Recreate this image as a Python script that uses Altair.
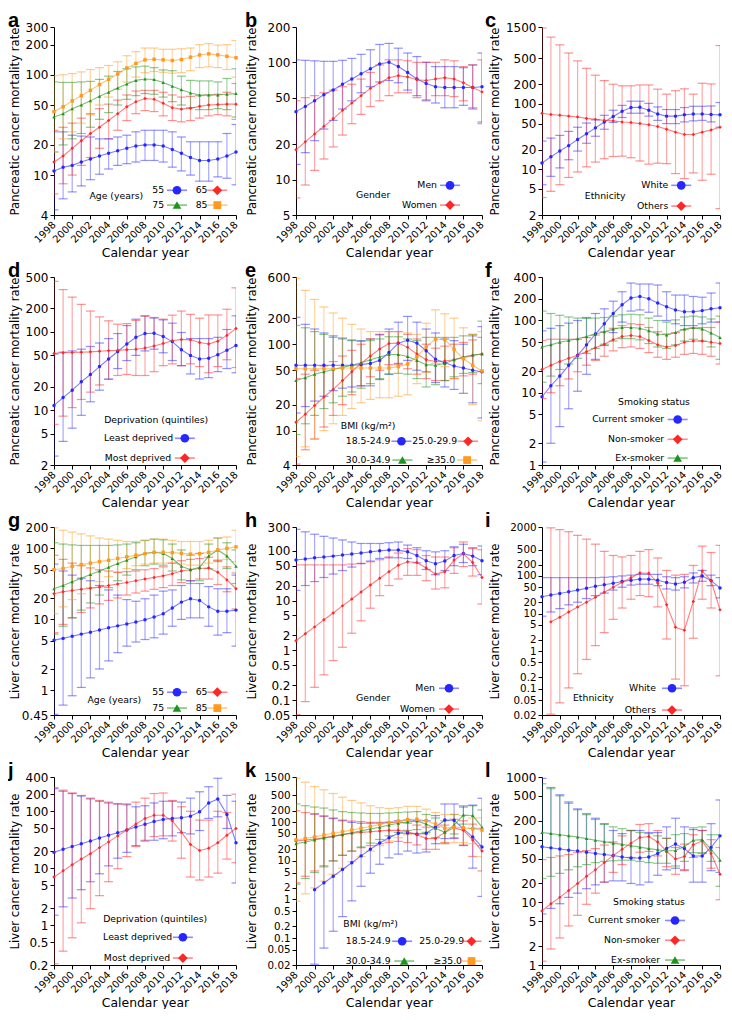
import altair as alt
import pandas as pd

YEARS = list(range(1998, 2019))
X_TICKS = list(range(1998, 2019, 2))

# ---------------- Panel a: pancreatic, age ----------------
A55 = [11, 12, 12.5, 13.5, 14.5, 15.5, 16.5, 17.5, 18.5, 19.5, 20, 20, 19.5, 18, 16.5, 15, 14, 14, 14.5, 15.5, 17]
A55_HI = [27, 27, 25, 24.5, 24, 23, 23, 24, 25, 27, 28, 28, 28, 27, 24, 21.5, 21.5, 21.5, 21.5, 26, 32]
A55_LO = [4.5, 5.8, 6.8, 7.8, 9, 10.2, 11.5, 12.5, 13, 13.5, 14, 14, 13.5, 12, 11, 10, 8.7, 8.7, 9.6, 9.3, 8]
A65 = [13.5, 15.5, 18.5, 22, 26, 30, 35, 41, 48, 54, 58, 57, 52, 47, 45.5, 46.5, 48.5, 50, 50.5, 51, 51]
A65_HI = [28, 30, 33, 37, 41, 46, 51, 56, 63, 69, 70, 70, 67, 63, 60, 61, 62, 63, 64, 67, 82]
A65_LO = [6.5, 8.2, 10, 12.5, 15, 18.5, 23, 28, 35, 41, 44, 43, 39, 35, 34, 35, 37, 39, 40, 39, 36]
A75 = [38, 41, 46, 50, 55, 61, 67, 74, 81, 88, 91, 90, 84, 77, 71, 66, 63, 63, 63, 64, 65]
A75_HI = [85, 84, 84, 85, 86, 90, 97, 108, 115, 120, 122, 118, 112, 110, 97, 88, 87, 87, 85, 92, 115]
A75_LO = [17, 20, 23, 26, 30, 36, 42, 50, 57, 62, 65, 64, 60, 54, 50, 47, 45, 45, 46, 45, 38]
A85 = [43, 48, 55, 62, 70, 80, 90, 102, 117, 130, 141, 143, 141, 139, 142, 150, 158, 162, 158, 153, 148]
A85_HI = [98, 100, 103, 107, 113, 118, 124, 135, 155, 170, 185, 185, 180, 180, 182, 185, 200, 205, 198, 200, 220]
A85_LO = [17, 23, 27, 33, 40, 50, 60, 72, 85, 95, 105, 108, 106, 104, 105, 110, 118, 120, 118, 113, 95]

# ---------------- Panel b: pancreatic, gender ----------------
B_MEN = [38, 42, 47, 53, 58, 65, 72, 80, 88, 97, 100, 92, 82, 72, 66, 62, 61, 61, 61, 61, 62]
B_MEN_HI = [105, 104, 103, 102, 102, 104, 108, 117, 128, 142, 145, 132, 120, 112, 100, 92, 92, 92, 90, 95, 120]
B_MEN_LO = [13.5, 17, 21.5, 27, 32, 40, 47, 55, 62, 68, 70, 67, 58, 52, 47, 45, 41, 41, 43, 40, 31]
B_WOM = [18, 21, 24.5, 28.5, 33, 39, 45, 52, 60, 67, 74, 77, 75, 71, 70, 72, 74, 72, 67, 61, 56]
B_WOM_HI = [47, 50, 52, 55, 58, 62, 65, 72, 82, 95, 105, 105, 103, 100, 100, 100, 105, 103, 92, 95, 105]
B_WOM_LO = [7, 9, 12, 15, 19, 24, 30, 36, 42, 47, 52, 55, 55, 50, 48, 52, 52, 51, 47, 41, 30]

# ---------------- Panel c: pancreatic, ethnicity ----------------
C_WHITE = [12.5, 15.5, 19, 23, 28.5, 35, 43, 53, 64, 77, 88, 89, 80, 70, 65, 65, 68, 70, 70, 69, 68]
C_WHITE_HI = [27, 30, 33, 38, 44, 51, 57, 67, 80, 95, 110, 110, 102, 90, 82, 82, 88, 92, 92, 93, 105]
C_WHITE_LO = [5.8, 7.8, 10.5, 14, 19, 25, 32, 41, 52, 62, 72, 72, 65, 56, 50, 50, 53, 55, 56, 53, 44]
C_OTH = [72, 69, 67, 65, 63, 60, 58, 56, 55, 53, 52, 50, 48, 45, 41, 37, 34, 34, 37, 40, 44]
C_OTH_HI = [1450, 1050, 800, 600, 455, 350, 275, 227, 200, 189, 189, 195, 195, 168, 141, 159, 170, 141, 207, 202, 780]
C_OTH_LO = [3.7, 4.6, 5.8, 7.5, 9.1, 10.9, 12.9, 14.5, 15.7, 15.9, 15, 13.4, 12, 12.4, 12.2, 8.6, 7.2, 8.8, 6.8, 8.4, 2.5]

# ---------------- Panel d: pancreatic, deprivation ----------------
D_LEAST = [11.5, 14.5, 18, 23, 28.5, 36, 45, 56, 70, 85, 95, 96, 87, 75, 59, 50, 45, 46, 51, 58, 67]
D_LEAST_HI = [52, 55, 57, 60, 65, 72, 82, 95, 120, 145, 160, 150, 142, 129, 98, 82, 82, 82, 85, 107, 160]
D_LEAST_LO = [2.6, 4, 5.9, 8.6, 12.8, 18, 25, 34, 43, 50, 57, 60, 54, 43, 37, 29, 25, 26, 31, 34, 30]
D_MOST = [53, 54, 54.5, 55, 55.5, 56.5, 57.5, 58, 59, 60, 62, 66, 71, 77, 80, 79, 73, 70, 76, 90, 110]
D_MOST_HI = [440, 345, 277, 224, 184, 155, 138, 125, 127, 140, 158, 152, 145, 163, 184, 167, 149, 164, 164, 194, 364]
D_MOST_LO = [6.6, 8.4, 10.8, 13.7, 17, 21, 24.7, 27.7, 28.5, 27.7, 27.7, 31, 37, 39, 37, 39, 36, 30, 36, 44, 35]

# ---------------- Panel e: pancreatic, BMI ----------------
E_18 = [57, 57, 57, 57, 57, 57, 57, 58, 60, 65, 80, 103, 111, 103, 84, 67, 61, 56, 53, 50, 48]
E_18_HI = [205, 170, 150, 135, 125, 118, 112, 110, 115, 130, 150, 180, 210, 180, 150, 135, 115, 110, 100, 125, 160]
E_18_LO = [16, 19, 22, 25, 29, 31, 32, 33, 33, 39, 45, 60, 65, 50, 48, 36, 32, 30, 27, 21, 14]
E_25 = [12.5, 15.5, 19.5, 24.5, 30, 38, 48, 60, 73, 88, 102, 103, 92, 77, 66, 63, 64, 66, 70, 74, 77]
E_25_HI = [40, 45, 50, 56, 63, 73, 85, 100, 115, 128, 140, 140, 130, 115, 100, 90, 95, 100, 105, 112, 120]
E_25_LO = [4.1, 6, 8, 11, 15, 20, 26, 33, 42, 50, 58, 58, 52, 45, 40, 38, 38, 40, 43, 45, 48]
E_30 = [38, 41, 45, 48, 51, 54, 57, 61, 66, 71, 76, 76, 72, 65, 58, 57, 60, 66, 71, 75, 77]
E_30_HI = [165, 155, 140, 130, 120, 115, 110, 108, 110, 115, 122, 122, 115, 110, 120, 120, 120, 120, 125, 130, 185]
E_30_LO = [9, 12, 15, 18, 21, 25, 28, 31, 35, 40, 45, 46, 45, 40, 32, 34, 38, 42, 46, 47, 35]
E_35 = [52, 52, 52, 52, 52, 53, 53, 53, 53, 53, 53, 55, 59, 72, 93, 115, 113, 87, 68, 57, 49]
E_35_HI = [580, 420, 330, 270, 230, 200, 170, 150, 140, 140, 140, 140, 135, 130, 175, 250, 225, 200, 155, 130, 140]
E_35_LO = [5, 6.5, 8, 10, 12, 15, 18, 21, 23, 24, 24, 25, 26, 35, 47, 60, 55, 40, 27, 20, 13]

# ---------------- Panel f: pancreatic, smoking ----------------
F_CUR = [8.8, 12.5, 17, 24, 33, 46, 65, 90, 125, 165, 205, 215, 200, 175, 155, 140, 132, 132, 137, 145, 150]
F_CUR_HI = [72, 78, 85, 92, 100, 110, 125, 145, 185, 250, 330, 320, 320, 310, 250, 225, 225, 215, 210, 240, 330]
F_CUR_LO = [1.1, 2, 3.4, 6, 10.5, 18, 29, 45, 68, 95, 135, 140, 130, 115, 100, 90, 85, 85, 90, 95, 95]
F_NON = [21, 24, 27, 30, 33, 37, 42, 47, 54, 60, 62, 60, 53, 46, 43, 45, 50, 52, 52, 50, 48]
F_NON_HI = [53, 55, 55, 55, 55, 58, 63, 70, 78, 85, 90, 88, 80, 70, 65, 68, 75, 78, 80, 80, 95]
F_NON_LO = [8.3, 10, 12.5, 15.5, 19.5, 24, 28, 32, 38, 42, 43, 41, 36, 31, 29, 31, 34, 35, 34, 32, 25]
F_EX = [43, 46, 50, 53, 56, 60, 65, 70, 76, 80, 80, 78, 72, 65, 63, 68, 76, 80, 76, 67, 58]
F_EX_HI = [135, 125, 118, 112, 108, 107, 108, 110, 115, 120, 122, 120, 108, 100, 95, 102, 112, 115, 112, 105, 115]
F_EX_LO = [14, 17, 21, 25, 30, 35, 41, 47, 52, 56, 56, 54, 48, 43, 41, 46, 52, 55, 52, 43, 29]

# ---------------- Panel g: liver, age ----------------
G55 = [5.1, 5.4, 5.8, 6.2, 6.6, 7.1, 7.6, 8.1, 8.6, 9.2, 9.9, 10.8, 12, 14.5, 17.5, 19.5, 18.5, 15, 13, 13, 13.5]
G55_HI = [60, 48, 42, 38, 35, 30, 26, 22, 19, 18, 19.5, 22, 25, 26, 30, 35, 32, 29, 27, 27, 42]
G55_LO = [0.46, 0.62, 0.84, 1.1, 1.5, 2, 2.6, 3.4, 4.2, 4.8, 5.2, 5.5, 6.2, 8, 10, 10.5, 10.5, 8, 6, 6.5, 4.2]
G65 = [23, 24.5, 25.5, 26.5, 27.5, 28.5, 30, 31.5, 33, 35, 37, 39, 41, 44, 48, 50, 52, 53, 46, 36, 27]
G65_HI = [80, 70, 62, 57, 53, 50, 48, 46, 47, 48, 50, 52, 55, 62, 67, 70, 72, 75, 68, 55, 45]
G65_LO = [6.5, 8.5, 10.5, 12.5, 14.5, 16.5, 18.5, 20, 22, 23.5, 25, 26.5, 28, 30, 33, 35, 37, 37, 31, 24.5, 14]
G75 = [27, 30, 34, 38, 43, 48, 54, 61, 68, 76, 85, 88, 85, 72, 56, 50, 54, 78, 95, 78, 56]
G75_HI = [120, 115, 112, 110, 110, 110, 110, 112, 115, 120, 130, 135, 132, 115, 95, 80, 85, 115, 140, 120, 95]
G75_LO = [6.2, 8, 10.5, 13.5, 17, 22, 28, 35, 42, 50, 57, 60, 58, 48, 36, 32, 35, 52, 65, 52, 32]
G85 = [50, 52, 56, 59, 62, 65, 68, 72, 76, 80, 84, 88, 88, 87, 85, 83, 84, 88, 95, 100, 105]
G85_HI = [195, 180, 170, 160, 150, 140, 135, 130, 125, 125, 128, 135, 135, 130, 125, 125, 125, 130, 140, 145, 180]
G85_LO = [12, 15, 19, 23, 28, 34, 40, 46, 52, 57, 60, 62, 62, 62, 60, 58, 58, 62, 68, 70, 65]

# ---------------- Panel h: liver, gender ----------------
H_MEN = [65, 68, 72, 75, 78, 82, 86, 90, 95, 100, 103, 103, 95, 80, 63, 55, 62, 80, 88, 78, 63]
H_MEN_HI = [270, 240, 215, 195, 180, 165, 150, 140, 140, 140, 145, 150, 130, 115, 100, 95, 100, 120, 135, 115, 125]
H_MEN_LO = [16, 20, 24, 29, 34, 40, 47, 55, 62, 70, 72, 72, 70, 57, 42, 33, 40, 50, 58, 50, 33]
H_WOM = [1.55, 2.15, 2.95, 4.1, 5.6, 7.8, 10.7, 14.8, 20.5, 28, 38, 51, 60, 58, 45, 34, 38, 65, 87, 58, 29]
H_WOM_HI = [52, 52, 52, 52, 52, 52, 54, 56, 60, 66, 75, 90, 110, 105, 80, 75, 75, 115, 150, 110, 105]
H_WOM_LO = [0.051, 0.093, 0.18, 0.32, 0.62, 1.15, 2.2, 3.9, 7, 12.5, 20, 27, 32, 32, 25, 17, 18, 35, 48, 31, 8.5]

# ---------------- Panel i: liver, ethnicity ----------------
I_WHITE = [28, 31, 34, 38, 42, 47, 53, 58, 64, 71, 77, 82, 82, 77, 67, 61, 68, 90, 100, 75, 48]
I_WHITE_HI = [90, 90, 90, 90, 90, 90, 90, 92, 95, 100, 105, 110, 110, 110, 95, 90, 95, 120, 140, 105, 90]
I_WHITE_LO = [8.5, 11, 13.5, 17, 20, 25, 30, 35, 42, 50, 57, 60, 60, 55, 45, 42, 48, 65, 72, 55, 26]
I_OTH = [None, 6, 8, 11, 15, 20, 27, 37, 50, 68, 90, 120, 118, 65, 17, 4.3, 3.6, 21, 135, 75, 12.5]
I_OTH_HI = [None, 1900, 1700, 1500, 1200, 950, 700, 450, 350, 320, 350, 450, 500, 300, 140, 105, 110, 190, 620, 420, 650]
I_OTH_LO = [None, 0.021, 0.042, 0.105, 0.25, 0.6, 1.4, 3.1, 7, 14, 24, 30, 28, 15, 2.1, 0.18, 0.12, 2.2, 24, 14, 0.22]

# ---------------- Panel j: liver, deprivation ----------------
J_LEAST = [19, 21.5, 24, 27, 30, 34, 38, 42, 47, 53, 59, 66, 72, 75, 77, 82, 98, 140, 165, 88, 28]
J_LEAST_HI = [250, 225, 205, 185, 165, 150, 140, 135, 130, 120, 125, 140, 150, 150, 145, 170, 220, 270, 380, 190, 150]
J_LEAST_LO = [1.5, 2.1, 3, 4.2, 5.8, 8, 11, 15, 19, 25, 30, 31, 33, 37, 42, 40, 46, 75, 80, 50, 5.5]
J_MOST = [7, 9, 11.5, 14.5, 18, 23, 29, 37, 47, 60, 75, 85, 85, 68, 43, 26, 20.5, 22.5, 28, 38, 50]
J_MOST_HI = [260, 235, 210, 190, 170, 155, 145, 135, 135, 145, 170, 205, 210, 155, 120, 100, 70, 70, 100, 95, 200]
J_MOST_LO = [0.21, 0.35, 0.6, 1.1, 1.95, 3.3, 5.8, 9.8, 16, 24, 31, 36, 37, 30, 15, 7, 6.2, 7, 8.2, 14.5, 12.5]

# ---------------- Panel k: liver, BMI ----------------
K_18 = [None, None, 1.8, 2.7, 4, 6, 9, 13.5, 20, 29, 40, 52, 53, 49, 52, 75, 115, 113, 68, 42, 23]
K_18_HI = [None, None, 165, 145, 125, 110, 100, 95, 95, 95, 100, 110, 115, 110, 110, 150, 300, 300, 250, 280, 420]
K_18_LO = [None, None, 0.021, 0.055, 0.15, 0.36, 0.92, 2.2, 4.8, 8.2, 12, 15, 18, 16, 17, 28, 38, 38, 25, 6.5, 1.2]
K_25 = [33, 35, 37, 40, 44, 48, 52, 55, 57, 60, 62, 62, 58, 48, 38, 38, 55, 72, 62, 35, 18]
K_25_HI = [200, 180, 165, 145, 130, 115, 108, 105, 100, 100, 100, 100, 95, 85, 75, 75, 85, 120, 110, 90, 70]
K_25_LO = [2.7, 4, 5.5, 7.5, 10, 14, 18, 22, 25, 28, 30, 32, 30, 26, 20, 20, 30, 40, 26, 13, 5.5]
K_30 = [28, 31, 35, 39, 43, 48, 54, 60, 67, 75, 85, 95, 103, 108, 90, 70, 55, 85, 155, 150, 75]
K_30_HI = [300, 270, 250, 235, 210, 190, 180, 175, 170, 170, 175, 180, 185, 190, 160, 130, 110, 160, 270, 270, 210]
K_30_LO = [2.5, 3.5, 5, 7, 10, 14, 18, 23, 29, 36, 45, 55, 62, 65, 55, 40, 28, 50, 90, 70, 25]
K_35 = [35, 38, 42, 47, 52, 57, 63, 70, 78, 88, 98, 108, 118, 120, 110, 90, 70, 75, 72, 68, 63]
K_35_HI = [1400, 1100, 850, 700, 560, 450, 370, 320, 270, 240, 230, 240, 260, 260, 220, 180, 160, 160, 150, 130, 130]
K_35_LO = [0.9, 1.4, 2, 3, 4.5, 6.5, 9.5, 13, 18, 25, 33, 40, 48, 52, 50, 40, 28, 30, 30, 28, 13]

# ---------------- Panel l: liver, smoking ----------------
L_CUR = [77, 74, 71, 68, 66, 63, 60, 58, 56, 53, 51, 51, 53, 60, 72, 85, 72, 55, 55, 75, 115]
L_CUR_HI = [950, 680, 520, 400, 310, 260, 220, 180, 140, 125, 140, 140, 130, 130, 160, 220, 160, 145, 140, 180, 430]
L_CUR_LO = [6.5, 8, 9.5, 12, 14, 16.5, 19, 21, 22, 22, 20, 19, 21, 27, 33, 35, 33, 21, 21, 32, 30]
L_NON = [7.3, 9.5, 12, 15.5, 20, 26, 33, 43, 56, 70, 88, 108, 112, 92, 65, 49, 54, 83, 95, 60, 28]
L_NON_HI = [48, 52, 55, 58, 62, 67, 72, 82, 92, 115, 140, 175, 180, 140, 105, 75, 85, 120, 140, 100, 75]
L_NON_LO = [1.15, 1.8, 2.7, 4.2, 6.2, 9.3, 14, 21, 30, 40, 52, 63, 65, 55, 37, 28, 32, 52, 60, 35, 11]
L_EX = [130, 125, 120, 115, 110, 104, 98, 93, 88, 84, 80, 76, 72, 69, 66, 67, 78, 98, 100, 70, 47]
L_EX_HI = [780, 650, 500, 380, 300, 250, 210, 175, 160, 150, 140, 130, 125, 115, 105, 120, 125, 155, 160, 120, 120]
L_EX_LO = [24, 26, 29, 33, 37, 40, 43, 45, 46, 47, 47, 45, 43, 42, 42, 38, 45, 62, 62, 45, 18]

BLUE, RED, GREEN, ORANGE = "#2626ff", "#ff2626", "#1c941c", "#ff9a1e"
SHAPE = {BLUE: "circle", RED: "diamond", GREEN: "triangle-up", ORANGE: "square"}
LSIZE = {BLUE: 75, RED: 95, GREEN: 75, ORANGE: 60}
FONT = "DejaVu Sans"
LFONT = 9.3
ONE = pd.DataFrame({"k": [0]})
H = 188
PANC = "Pancreatic cancer mortality rate"
LIVER = "Liver cancer mortality rate"
W = [182, 186, 178]          # plot widths per column
EXT = [32, 37, 40]           # y-axis extent per column
LETTER_X = [-46, -51, -57]   # panel letter offset per column


def panel(letter, ytitle, ydom, yticks, series, leg, col, refw, ylab=12):
    width = W[col]
    recs = []
    for name, color, v, lo, hi in series:
        for yr, a, b, c in zip(YEARS, v, lo, hi):
            if a is None:
                continue
            recs.append({"year": yr, "series": name, "clr": color, "shp": SHAPE[color],
                         "value": a, "lo": b, "hi": c})
    df = pd.DataFrame(recs)
    xs = alt.Scale(domain=[1998, 2018], nice=False, zero=False)
    ys = alt.Scale(type="log", domain=ydom, nice=False)
    xax = alt.Axis(values=X_TICKS, format="d", labelAngle=-45, labelFontSize=10,
                   labelAlign="right", labelBaseline="middle", labelPadding=4,
                   title="Calendar year", grid=False, labelFlush=False, labelOverlap=False)
    yax = alt.Axis(values=yticks, format="~g", title=ytitle, grid=False, labelFlush=False,
                   labelOverlap=False, minExtent=EXT[col], maxExtent=EXT[col], labelFontSize=ylab)
    X = alt.X("year:Q", scale=xs, axis=xax)
    colr = alt.Color("clr:N", scale=None, legend=None)
    shp = alt.Shape("shp:N", scale=None, legend=None)
    base = alt.Chart(df)
    bars = base.mark_rule(strokeWidth=1.2, opacity=0.4, clip=True).encode(
        x=X, y=alt.Y("lo:Q", scale=ys, axis=yax), y2="hi:Q", color=colr)
    cap_lo = base.mark_tick(orient="horizontal", size=9, thickness=1.2, opacity=0.5, clip=True).encode(
        x=X, y=alt.Y("lo:Q", scale=ys, axis=yax), color=colr)
    cap_hi = base.mark_tick(orient="horizontal", size=9, thickness=1.2, opacity=0.5, clip=True).encode(
        x=X, y=alt.Y("hi:Q", scale=ys, axis=yax), color=colr)
    line = base.mark_line(strokeWidth=1.1, opacity=0.6).encode(
        x=X, y=alt.Y("value:Q", scale=ys, axis=yax), color=colr, detail="series:N")
    pts = base.mark_point(filled=True, size=12, opacity=1).encode(
        x=X, y=alt.Y("value:Q", scale=ys, axis=yax), color=colr, shape=shp)
    layers = [bars, cap_lo, cap_hi, line, pts]

    sx = width / refw
    sy = H / 190.0
    gtitle, gx, gy = leg["title"]
    layers.append(alt.Chart(ONE).mark_text(text=gtitle, align="left", baseline="middle", font=FONT,
                                           fontSize=LFONT, color="black").encode(
        x=alt.value(gx * sx), y=alt.value(gy * sy)))
    for label, lx, ly, mx, color in leg["items"]:
        layers.append(alt.Chart(ONE).mark_text(text=label, align="right", baseline="middle", font=FONT,
                                               fontSize=LFONT, color="black").encode(
            x=alt.value(lx * sx), y=alt.value(ly * sy)))
        layers.append(alt.Chart(ONE).mark_rule(color=color, strokeWidth=1.6, opacity=0.55).encode(
            x=alt.value(mx * sx - 10), x2=alt.value(mx * sx + 10), y=alt.value(ly * sy)))
        layers.append(alt.Chart(ONE).mark_point(shape=SHAPE[color], filled=True, size=LSIZE[color],
                                                color=color, opacity=1).encode(
            x=alt.value(mx * sx), y=alt.value(ly * sy)))
    layers.append(alt.Chart(ONE).mark_text(text=letter, align="left", baseline="alphabetic",
                                           font="Liberation Sans", fontWeight="bold", fontSize=20,
                                           color="black").encode(
        x=alt.value(LETTER_X[col]), y=alt.value(0)))
    return alt.layer(*layers).properties(width=width, height=H)


pa = panel("a", PANC, [4, 300], [4, 10, 20, 50, 100, 200, 300],
           [("55", BLUE, A55, A55_LO, A55_HI), ("65", RED, A65, A65_LO, A65_HI),
            ("75", GREEN, A75, A75_LO, A75_HI), ("85", ORANGE, A85, A85_LO, A85_HI)],
           {"title": ("Age (years)", 36, 171),
            "items": [("55", 112, 165, 125, BLUE), ("65", 156, 165, 166, RED),
                      ("75", 112, 180, 125, GREEN), ("85", 156, 180, 166, ORANGE)]}, 0, 185)
pb = panel("b", PANC, [5, 200], [5, 10, 20, 50, 100, 200],
           [("Men", BLUE, B_MEN, B_MEN_LO, B_MEN_HI), ("Women", RED, B_WOM, B_WOM_LO, B_WOM_HI)],
           {"title": ("Gender", 60, 170),
            "items": [("Men", 141, 160, 154, BLUE), ("Women", 141, 180, 154, RED)]}, 1, 186)
pc = panel("c", PANC, [2, 1500], [2, 5, 10, 20, 50, 100, 200, 500, 1500],
           [("White", BLUE, C_WHITE, C_WHITE_LO, C_WHITE_HI), ("Others", RED, C_OTH, C_OTH_LO, C_OTH_HI)],
           {"title": ("Ethnicity", 43, 171),
            "items": [("White", 127, 160, 140, BLUE), ("Others", 127, 181, 140, RED)]}, 2, 179)
pd_ = panel("d", PANC, [2, 500], [2, 5, 10, 20, 50, 100, 200, 500],
            [("Least deprived", BLUE, D_LEAST, D_LEAST_LO, D_LEAST_HI),
             ("Most deprived", RED, D_MOST, D_MOST_LO, D_MOST_HI)],
            {"title": ("Deprivation (quintiles)", 51, 145),
             "items": [("Least deprived", 121, 163, 133, BLUE), ("Most deprived", 119, 183, 133, RED)]}, 0, 185)
pe = panel("e", PANC, [4, 600], [4, 10, 20, 50, 100, 200, 600],
           [("18.5-24.9", BLUE, E_18, E_18_LO, E_18_HI), ("25.0-29.9", RED, E_25, E_25_LO, E_25_HI),
            ("30.0-34.9", GREEN, E_30, E_30_LO, E_30_HI), ("≥35.0", ORANGE, E_35, E_35_LO, E_35_HI)],
           {"title": ("BMI (kg/m²)", 45, 151),
            "items": [("18.5-24.9", 95, 166, 106, BLUE), ("25.0-29.9", 162, 166, 173, RED),
                      ("30.0-34.9", 95, 185, 107, GREEN), ("≥35.0", 160, 185, 172, ORANGE)]}, 1, 187)
pf = panel("f", PANC, [1, 400], [1, 2, 5, 10, 20, 50, 100, 200, 400],
           [("Current smoker", BLUE, F_CUR, F_CUR_LO, F_CUR_HI), ("Non-smoker", RED, F_NON, F_NON_LO, F_NON_HI),
            ("Ex-smoker", GREEN, F_EX, F_EX_LO, F_EX_HI)],
           {"title": ("Smoking status", 79, 126),
            "items": [("Current smoker", 127, 144, 141, BLUE), ("Non-smoker", 127, 164, 141, RED),
                      ("Ex-smoker", 127, 183, 141, GREEN)]}, 2, 185)
pg = panel("g", LIVER, [0.45, 200], [0.45, 1, 2, 5, 10, 20, 50, 100, 200],
           [("55", BLUE, G55, G55_LO, G55_HI), ("65", RED, G65, G65_LO, G65_HI),
            ("75", GREEN, G75, G75_LO, G75_HI), ("85", ORANGE, G85, G85_LO, G85_HI)],
           {"title": ("Age (years)", 34, 175),
            "items": [("55", 112, 167, 125, BLUE), ("65", 156, 167, 166, RED),
                      ("75", 112, 183, 125, GREEN), ("85", 156, 183, 166, ORANGE)]}, 0, 185)
ph = panel("h", LIVER, [0.05, 300], [0.05, 0.1, 0.2, 0.5, 1, 2, 5, 10, 20, 50, 100, 300],
           [("Men", BLUE, H_MEN, H_MEN_LO, H_MEN_HI), ("Women", RED, H_WOM, H_WOM_LO, H_WOM_HI)],
           {"title": ("Gender", 60, 173),
            "items": [("Men", 139, 163, 153, BLUE), ("Women", 139, 184, 153, RED)]}, 1, 186)
pi = panel("i", LIVER, [0.02, 2000],
           [0.02, 0.05, 0.1, 0.2, 0.5, 1, 2, 5, 10, 20, 50, 100, 200, 500, 2000],
           [("White", BLUE, I_WHITE, I_WHITE_LO, I_WHITE_HI), ("Others", RED, I_OTH, I_OTH_LO, I_OTH_HI)],
           {"title": ("Ethnicity", 31, 173),
            "items": [("White", 114, 163, 130, BLUE), ("Others", 114, 185, 130, RED)]}, 2, 178, ylab=10.3)
pj = panel("j", LIVER, [0.2, 400], [0.2, 0.5, 1, 2, 5, 10, 20, 50, 100, 200, 400],
           [("Least deprived", BLUE, J_LEAST, J_LEAST_LO, J_LEAST_HI),
            ("Most deprived", RED, J_MOST, J_MOST_LO, J_MOST_HI)],
           {"title": ("Deprivation (quintiles)", 50, 144),
            "items": [("Least deprived", 120, 162, 131, BLUE), ("Most deprived", 118, 183, 131, RED)]}, 0, 185)
pk = panel("k", LIVER, [0.02, 1500],
           [0.02, 0.05, 0.1, 0.2, 0.5, 1, 2, 5, 10, 20, 50, 100, 200, 500, 1500],
           [("18.5-24.9", BLUE, K_18, K_18_LO, K_18_HI), ("25.0-29.9", RED, K_25, K_25_LO, K_25_HI),
            ("30.0-34.9", GREEN, K_30, K_30_LO, K_30_HI), ("≥35.0", ORANGE, K_35, K_35_LO, K_35_HI)],
           {"title": ("BMI (kg/m²)", 45, 149),
            "items": [("18.5-24.9", 90, 166, 101, BLUE), ("25.0-29.9", 160, 166, 167, RED),
                      ("30.0-34.9", 90, 186, 103, GREEN), ("≥35.0", 158, 186, 167, ORANGE)]}, 1, 177, ylab=10.3)
pl = panel("l", LIVER, [1, 1000], [1, 2, 5, 10, 20, 50, 100, 200, 500, 1000],
           [("Current smoker", BLUE, L_CUR, L_CUR_LO, L_CUR_HI), ("Non-smoker", RED, L_NON, L_NON_LO, L_NON_HI),
            ("Ex-smoker", GREEN, L_EX, L_EX_LO, L_EX_HI)],
           {"title": ("Smoking status", 71, 126),
            "items": [("Current smoker", 118, 145, 133, BLUE), ("Non-smoker", 118, 165, 133, RED),
                      ("Ex-smoker", 118, 185, 133, GREEN)]}, 2, 178)

chart = (
    alt.concat(pa, pb, pc, pd_, pe, pf, pg, ph, pi, pj, pk, pl, columns=3,
               spacing={"row": 62, "column": 60}, bounds="flush", align="each")
    .properties(padding={"top": 3, "left": 0, "right": 0, "bottom": 0})
    .configure_view(stroke=None)
    .configure_axis(labelFont=FONT, titleFont=FONT, labelFontSize=12,
                    labelColor="black", titleColor="black", domainColor="black", tickColor="black",
                    titleFontWeight="normal", tickSize=4, labelPadding=2, domainWidth=1, tickWidth=1)
    .configure_axisY(titlePadding=2, titleFontSize=11.7)
    .configure_axisX(titlePadding=2, titleFontSize=12.4)
)

chart.save("out.html", embed_options={"renderer": "svg", "actions": False})
